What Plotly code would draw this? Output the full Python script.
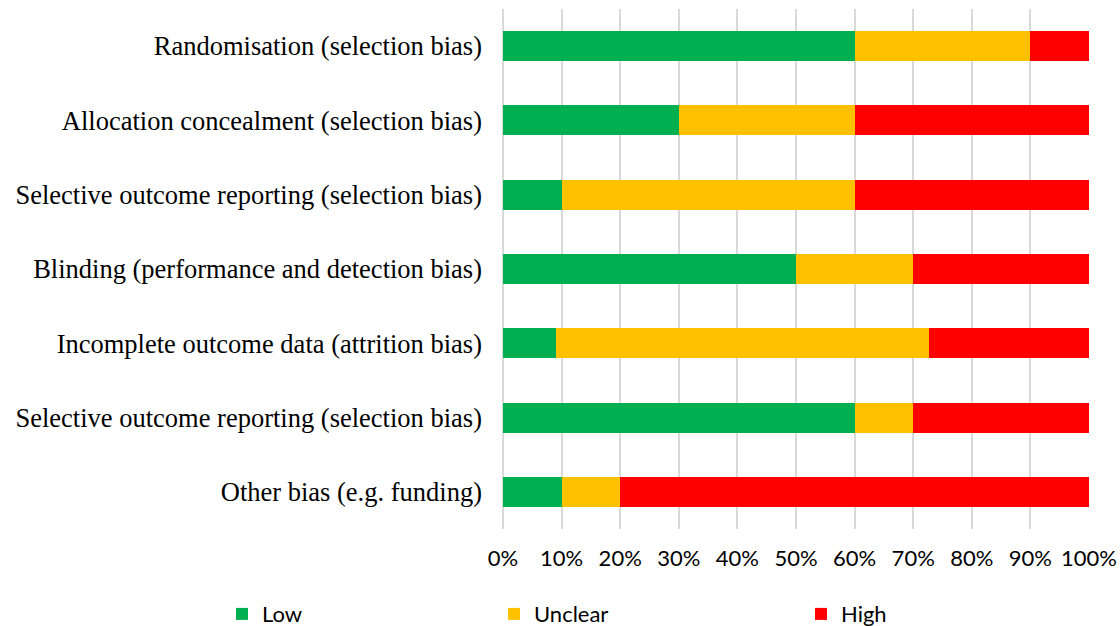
import plotly.graph_objects as go

categories = [
    "Randomisation (selection bias)",
    "Allocation concealment (selection bias)",
    "Selective outcome reporting (selection bias)",
    "Blinding (performance and detection bias)",
    "Incomplete outcome data (attrition bias)",
    "Selective outcome reporting (selection bias)",
    "Other bias (e.g. funding)",
]
low = [60, 30, 10, 50, 9.09, 60, 10]
unclear = [30, 30, 50, 20, 63.64, 10, 10]
high = [10, 40, 40, 30, 27.27, 30, 80]
x_ticks = [0, 10, 20, 30, 40, 50, 60, 70, 80, 90, 100]

series = [
    ("Low", low, "#00B050", "legend"),
    ("Unclear", unclear, "#FFC000", "legend2"),
    ("High", high, "#FF0000", "legend3"),
]

pos = list(range(len(categories)))

fig = go.Figure()
for name, vals, color, lg in series:
    fig.add_trace(go.Bar(
        y=pos, x=vals, name=name, orientation="h",
        marker=dict(color=color, line=dict(width=0)),
        width=0.404, legend=lg,
        hovertemplate="%{x}%<extra>" + name + "</extra>",
    ))

legfont = dict(family="Lato, 'Open Sans', sans-serif", size=22, color="#000000")
common_leg = dict(orientation="h", xref="container", yref="container",
                  yanchor="middle", y=0.019, xanchor="left",
                  font=legfont, bgcolor="rgba(0,0,0,0)", borderwidth=0)

fig.update_layout(
    barmode="stack",
    width=1120, height=626,
    margin=dict(l=503, r=31, t=9, b=97, autoexpand=False),
    paper_bgcolor="white", plot_bgcolor="white",
    showlegend=True,
    legend=dict(x=222 / 1120, **common_leg),
    legend2=dict(x=494 / 1120, **common_leg),
    legend3=dict(x=801 / 1120, **common_leg),
    xaxis=dict(
        range=[0, 100], tickvals=x_ticks,
        ticktext=[f"{v}%" for v in x_ticks],
        showgrid=True, gridcolor="#D9D9D9", gridwidth=1.5,
        zeroline=True, zerolinecolor="#D9D9D9", zerolinewidth=1.5,
        showline=False, ticks="",
        tickfont=dict(family="Lato, 'Open Sans', sans-serif", size=22, color="#000000"),
        ticklabelstandoff=14, automargin=False,
        fixedrange=True,
    ),
    yaxis=dict(
        range=[6.5, -0.5], tickvals=pos, ticktext=categories,
        showgrid=False, zeroline=False, showline=False, ticks="",
        tickfont=dict(family="'Liberation Serif', 'Times New Roman', serif", size=26.5, color="#000000"),
        ticklabelstandoff=20, automargin=False,
        fixedrange=True,
    ),
)

fig.write_html("out.html")
